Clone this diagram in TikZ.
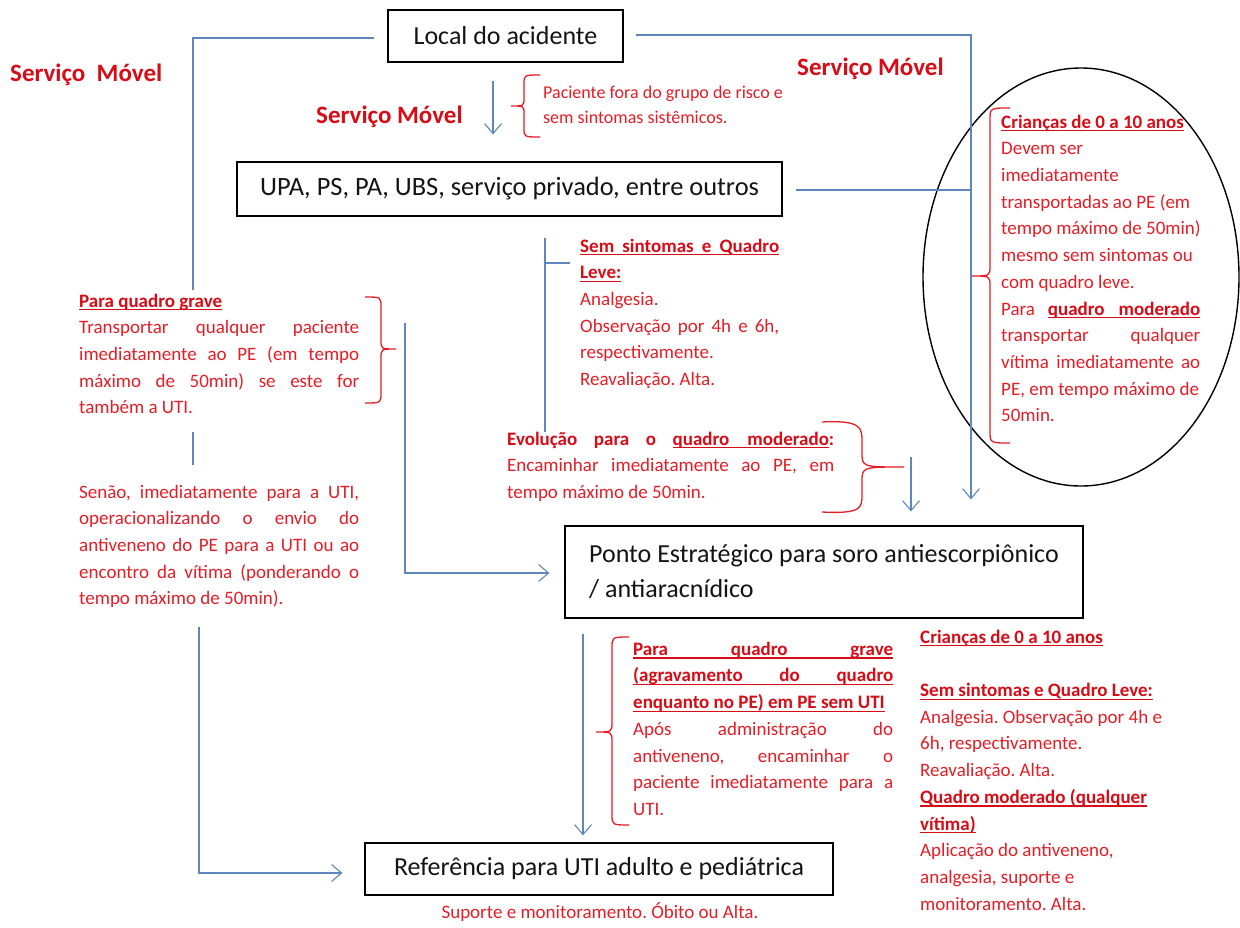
\documentclass[tikz,border=0pt]{standalone}
\usepackage{fontspec}
\setmainfont{Carlito}
\usetikzlibrary{arrows.meta,calc}
\definecolor{rtx}{RGB}{228,30,38}
\definecolor{rbd}{RGB}{214,12,22}
\definecolor{bln}{RGB}{95,135,190}
\newsavebox\ulbox
\newcommand\ulx[1]{\sbox\ulbox{#1}\rlap{\rule[-3.3pt]{\wd\ulbox}{1.2pt}}\usebox\ulbox}
\newcommand\hd[1]{{\color{rbd}\bfseries\ulx{#1}}}
\newcommand\rs{\spaceskip=0pt\xspaceskip=0pt\relax}
\newcommand\JL[2]{\hbox to #1{\rs #2}}
\newcommand\bodyfont{\fontsize{19}{26.7}\selectfont\frenchspacing}
\begin{document}
\begin{tikzpicture}[x=1pt,y=-1pt,
  box/.style={draw=black, line width=1.2pt, inner sep=0pt, text=black!92,
    font=\fontsize{26}{35}\selectfont},
  tb/.style={inner sep=0pt, anchor=north west, align=left, font=\bodyfont, text=rtx},
  sm/.style={inner sep=0pt, anchor=base west, text=rbd, font=\fontsize{25}{30}\selectfont\bfseries},
  ln/.style={draw=bln, line width=1.1pt},
  arr/.style={draw=bln, line width=1.1pt, -{Straight Barb[length=10pt,width=17pt]}},
  br/.style={draw=rtx, line width=1.3pt}]
\fill[white] (0,0) rectangle (1240,927);
\useasboundingbox (0,0) rectangle (1240,927);

% boxes
\node[box, minimum width=235pt, minimum height=52pt] (local) at (505.5,36) {Local do acidente};
\node[box, minimum width=545pt, minimum height=54pt, font=\fontsize{26.4}{35}\selectfont] (upa) at (509.5,189) {UPA, PS, PA, UBS, serviço privado, entre outros};
\node[box, align=left, minimum width=518pt, minimum height=92pt] (ponto) at (824,572)
  {\rs Ponto Estratégico para soro antiescorpiônico\\/ antiaracnídico\hspace{300pt}\hspace{-300pt}};
\node[box, minimum width=468pt, minimum height=52pt] (ref) at (599,869) {Referência para UTI adulto e pediátrica};

% Serviço Móvel labels
\node[sm] (sm1) at (10,81) {Serviço\hspace{0.45em}Móvel};
\node[sm] (sm2) at (316,123) {Serviço Móvel};
\node[sm] (sm3) at (797,75) {Serviço Móvel};

% Paciente text
\node[tb, font=\fontsize{18}{25}\selectfont, text width=270pt] (pac) at (543,80.5)
  {\rs\strut Paciente fora do grupo de risco e\\\strut sem sintomas sistêmicos.};

% Left block A
\node[tb, text width=282pt] (grave) at (79,288.3) {\rs
\strut\hd{Para quadro grave}\\
\strut\JL{280pt}{Transportar qualquer paciente}\\
\strut\JL{280pt}{imediatamente ao PE (em tempo}\\
\strut\JL{280pt}{máximo de 50min) se este for}\\
\strut também a UTI.};

% Left block B
\node[tb, text width=282pt] (senao) at (79,479.3) {\rs
\strut\JL{280pt}{Senão, imediatamente para a UTI,}\\
\strut\JL{280pt}{operacionalizando o envio do}\\
\strut\JL{280pt}{antiveneno do PE para a UTI ou ao}\\
\strut\JL{280pt}{encontro da vítima (ponderando o}\\
\strut tempo máximo de 50min).};

% Block C
\node[tb, text width=206pt] (leve) at (580,233.3) {\rs
\strut\hd{\JL{199pt}{Sem sintomas e Quadro}}\\
\strut\hd{Leve:}\\
\strut Analgesia.\\
\strut\JL{199pt}{Observação por 4h e 6h,}\\
\strut respectivamente.\\
\strut Reavaliação. Alta.};

% Block D
\node[tb, text width=330pt] (evol) at (507,426.3) {\rs
\strut\JL{327pt}{{\color{rbd}\bfseries Evolução} {\color{rbd}\bfseries para} {\color{rbd}\bfseries o} \hd{quadro\hspace{18pt}moderado}{\color{rbd}\bfseries :}}\\
\strut\JL{327pt}{Encaminhar imediatamente ao PE, em}\\
\strut tempo máximo de 50min.};

% Block E (ellipse)
\node[tb, text width=206pt] (criancas) at (1001,109.3) {\rs
\strut\hd{Crianças de 0 a 10 anos}\\
\strut Devem ser\\
\strut imediatamente\\
\strut transportadas ao PE (em\\
\strut tempo máximo de 50min)\\
\strut mesmo sem sintomas ou\\
\strut com quadro leve.\\
\strut\JL{199pt}{Para \hd{quadro\hspace{14pt}moderado}}\\
\strut\JL{199pt}{transportar qualquer}\\
\strut\JL{199pt}{vítima imediatamente ao}\\
\strut PE, em tempo máximo de\\
\strut 50min.};

% Block F
\node[tb, text width=262pt] (agrav) at (633,636.3) {\rs
\strut\hd{\JL{260pt}{Para quadro grave}}\\
\strut\hd{\JL{260pt}{(agravamento do quadro}}\\
\strut\hd{enquanto no PE) em PE sem UTI}\\
\strut\JL{260pt}{Após administração do}\\
\strut\JL{260pt}{antiveneno, encaminhar o}\\
\strut\JL{260pt}{paciente imediatamente para a}\\
\strut UTI.};

% Block G
\node[tb, text width=262pt] (crianca2) at (920,624.3) {\rs
\strut\hd{Crianças de 0 a 10 anos}\\
\strut\\
\strut\hd{Sem sintomas e Quadro Leve:}\\
\strut Analgesia. Observação por 4h e\\
\strut 6h, respectivamente.\\
\strut Reavaliação. Alta.\\
\strut\hd{Quadro moderado (qualquer}\\
\strut\hd{vítima)}\\
\strut Aplicação do antiveneno,\\
\strut analgesia, suporte e\\
\strut monitoramento. Alta.};

% bottom caption
\node[inner sep=0pt, anchor=base, font=\bodyfont, text=rtx] (sup) at (600,918) {Suporte e monitoramento. Óbito ou Alta.};

% ellipse
\draw[black, line width=1.4pt] (1081,277) ellipse [x radius=158, y radius=209];

% coordinates
\coordinate (lA) at ($(local.west)+(-13,2)$);
\coordinate (lB) at (193,290);
\coordinate (lC) at (193,432);
\coordinate (lD) at (193,465);
\coordinate (lE) at (199,627);
\coordinate (rA) at ($(local.east)+(12,-1)$);
\coordinate (rB) at ($(ponto.north)+(147,-26)$);
\coordinate (uA) at ($(upa.east)+(13,1)$);
\coordinate (mA) at ($(upa.south)+(35.5,21)$);
\coordinate (mB) at (545,432);
\coordinate (mT) at (570,263);
\coordinate (gA) at (405,323);

% connectors
\draw[arr] ($(local.south)+(-12.5,18)$) -- ($(upa.north)+(-16.5,-27)$);
\draw[ln] (lA) -| (lB);
\draw[ln] (lC) -- (lD);
\draw[arr] (lE) |- ($(ref.west)+(-22,4)$);
\draw[arr] (rA) -| (rB);
\draw[ln] (uA) -- (uA -| rB);
\draw[ln] (mA) -- (mB);
\draw[ln] (mA |- mT) -- (mT);
\draw[arr] (gA) |- ($(ponto.west)+(-15,1)$);
\draw[arr] ($(ponto.north)+(87,-68)$) -- ($(ponto.north)+(87,-14)$);
\draw[arr] ($(ponto.south)+(-241,15)$) -- ($(ref.north)+(-16,-7)$);

% braces
\draw[br] (540,75) .. controls (524,75) .. (524,84) -- (524,98) .. controls (524,106) .. (511,106)
  .. controls (524,106) .. (524,114) -- (524,128) .. controls (524,137) .. (540,137);
\draw[br] (1010,108) .. controls (990,108) .. (990,120) -- (990,266) .. controls (990,276) .. (972,276)
  .. controls (990,276) .. (990,286) -- (990,431) .. controls (990,443) .. (1010,443);
\draw[br] (629,637) .. controls (612,637) .. (612,648) -- (612,722) .. controls (612,732) .. (596,732)
  .. controls (612,732) .. (612,742) -- (612,814) .. controls (612,825) .. (629,825);
\draw[br] (365,297) .. controls (381,297) .. (381,307) -- (381,340) .. controls (381,349) .. (396,349)
  .. controls (381,349) .. (381,358) -- (381,393) .. controls (381,403) .. (365,403);
\draw[br] (822,422) .. controls (862,420) and (862,428) .. (862,442) -- (862,452) .. controls (862,467) .. (904,467)
  .. controls (862,467) .. (862,482) -- (862,494) .. controls (862,508) and (862,514) .. (822,512);
\end{tikzpicture}
\end{document}
